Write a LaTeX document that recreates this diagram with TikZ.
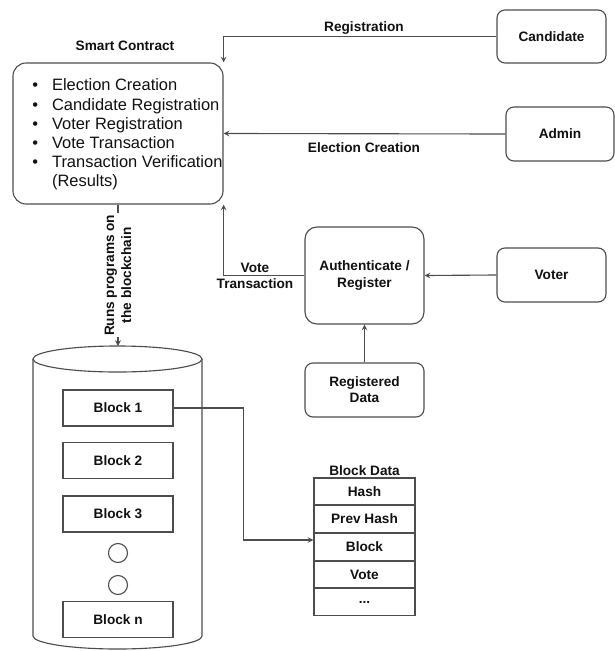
\documentclass[tikz,border=0pt]{standalone}
\usepackage{fontspec}
\setmainfont{Liberation Sans}
\usepackage{tikz}
\usetikzlibrary{positioning}
\definecolor{votingline}{HTML}{4D4D4D}
\definecolor{votingfg}{HTML}{111111}

\begin{document}
\begin{tikzpicture}[x=0.025cm,y=-0.025cm,>=stealth,font=\fontsize{9.7}{11.4}\selectfont\bfseries]
  \tikzstyle{party}=[draw=votingline, line width=0.8pt, rounded corners=2mm, fill=white, align=center, text=votingfg]
  \tikzstyle{block}=[draw=votingline, line width=0.8pt, fill=white, align=center, text=votingfg, minimum width=2.75cm, minimum height=0.9cm]
  \tikzstyle{field}=[draw=votingline, line width=0.8pt, fill=white, text=votingfg, inner sep=0pt, minimum width=2.525cm, minimum height=0.665cm]
  \tikzstyle{dot}=[draw=votingline, line width=0.8pt, circle, inner sep=0pt, minimum size=0.475cm]
  \tikzstyle{arrow}=[->, line width=0.8pt, draw=votingline]
  \tikzstyle{label}=[align=center, fill=white, inner sep=1pt, text=votingfg]
  \tikzstyle{title}=[align=center, text=votingfg, inner sep=1pt]

  \path[use as bounding box] (0,0) rectangle (615,651);

  % smart contract
  \node[title] (sctitle) at (125,46) {Smart Contract};
  \node[party, rounded corners=3.3mm, minimum width=5.25cm, minimum height=3.525cm] (contract) at (118,133.5) {};
  \node[anchor=west, inner sep=0pt, text=votingfg, font=\fontsize{11.7}{13.66}\selectfont\mdseries] (duties) at (32,135)
    {\begin{tabular}{@{}l@{\hspace{3.5mm}}l@{}}
      \textbullet & Election Creation\\
      \textbullet & Candidate Registration\\
      \textbullet & Voter Registration\\
      \textbullet & Vote Transaction\\
      \textbullet & Transaction Verification\\
                  & (Results)
    \end{tabular}};

  % actors
  \node[party, minimum width=2.725cm, minimum height=1.325cm] (candidate) at (551.5,36.5) {Candidate};
  \node[party, minimum width=2.7cm, minimum height=1.35cm] (admin) at (560,134) {Admin};
  \node[party, minimum width=2.725cm, minimum height=1.35cm] (voter) at (551.5,275) {Voter};
  \node[party, rounded corners=3mm, minimum width=2.975cm, minimum height=2.425cm] (auth) at (364.5,275.5) {Authenticate /\\Register};
  \node[party, minimum width=2.975cm, minimum height=1.35cm] (registered) at (364.5,390) {Registered\\Data};

  \draw[arrow] (candidate.west) -| (contract.north east);
  \node[title] at (364,28) {Registration};
  \draw[arrow] (admin.west) -- (contract.east);
  \node[title] at (364,148) {Election Creation};
  \draw[arrow] (voter.west) -- (auth.east);
  \draw[arrow] (registered.north) -- (auth.south);
  \draw[arrow] (auth.west) -| (contract.south east);
  \node[label, fill=none] at (255,276) {Vote\\Transaction};

  % blockchain
  \draw[votingline, line width=0.8pt, fill=white] (33,359) -- (33,636)
    arc[start angle=180, end angle=360, x radius=2.1125cm, y radius=0.325cm] -- (202,359);
  \draw[votingline, line width=0.8pt, fill=white] (117.5,359) ellipse[x radius=2.1125cm, y radius=0.325cm];
  \coordinate (dbtop) at (118,346);
  \draw[arrow] (contract.south) -- node[label, rotate=90, font=\fontsize{9.7}{12}\selectfont\bfseries] (runs) {Runs programs on\\the blockchain} (dbtop);

  \node[block] (b1) at (118,408) {Block 1};
  \node[block] (b2) at (118,460.5) {Block 2};
  \node[block] (b3) at (118,514) {Block 3};
  \node[dot] (dot1) at (118,553) {};
  \node[dot] (dot2) at (118,585) {};
  \node[block] (bn) at (118,619.5) {Block n};

  % block data
  \node[field] (hash) at (364.5,491.3) {Hash};
  \node[field, below=0pt of hash] (prevhash) {Prev Hash};
  \node[field, below=0pt of prevhash] (blockrow) {Block};
  \node[field, below=0pt of blockrow] (vote) {Vote};
  \node[field, below=0pt of vote] (more) {...};
  \node[title, above=0pt of hash] (blockdata) {Block Data};

  \draw[arrow] (b1.east) -- ++(70,0) |- ([yshift=0.17cm]blockrow.west);
\end{tikzpicture}
\end{document}
